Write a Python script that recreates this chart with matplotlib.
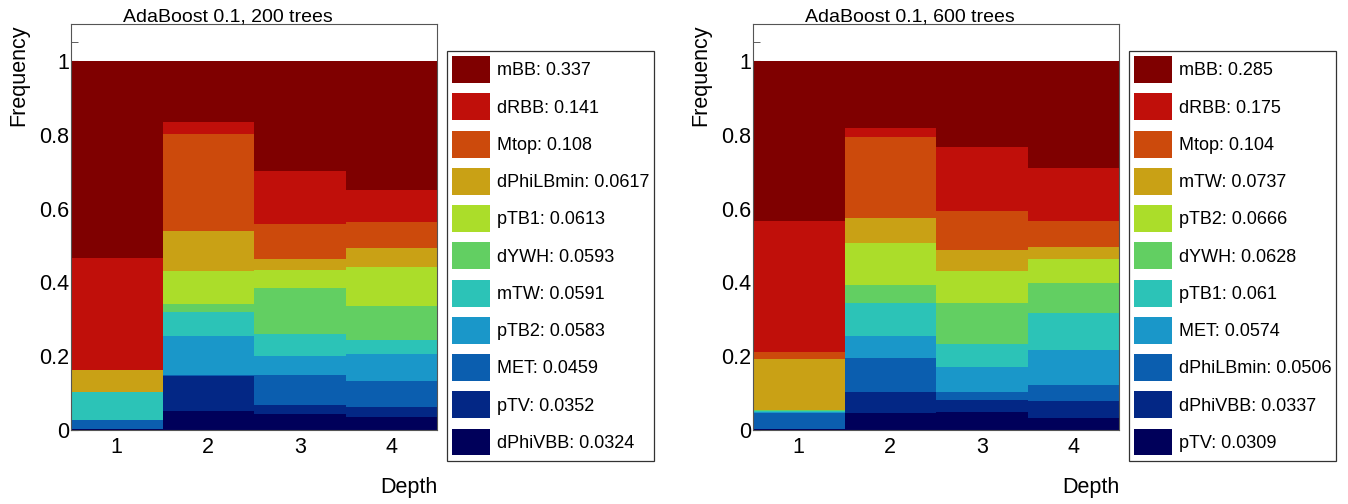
import matplotlib
matplotlib.use('Agg')
import matplotlib.pyplot as plt
import numpy as np

plt.rcParams['font.family'] = ['Liberation Sans', 'DejaVu Sans']

depths = [1, 2, 3, 4]

# colours, ranked from most to least important variable
rank_colors = ['#7f0000', '#c00f0a', '#cc4a0c', '#c9a115', '#abdd2a', '#62cf62',
               '#2cc3b7', '#1a97c9', '#0b5eaf', '#032785', '#00005a']

# --- 200 trees ---
names_200 = ['mBB', 'dRBB', 'Mtop', 'dPhiLBmin', 'pTB1', 'dYWH', 'mTW', 'pTB2',
             'MET', 'pTV', 'dPhiVBB']
imp_200 = ['0.337', '0.141', '0.108', '0.0617', '0.0613', '0.0593', '0.0591',
           '0.0583', '0.0459', '0.0352', '0.0324']
# fraction per depth (1..4) for each variable, same order as names_200
frac_200 = [
    [0.535, 0.165, 0.299, 0.350],
    [0.302, 0.033, 0.143, 0.087],
    [0.000, 0.264, 0.096, 0.071],
    [0.059, 0.106, 0.029, 0.051],
    [0.000, 0.091, 0.047, 0.106],
    [0.000, 0.022, 0.125, 0.092],
    [0.076, 0.065, 0.061, 0.036],
    [0.000, 0.104, 0.052, 0.074],
    [0.025, 0.004, 0.080, 0.072],
    [0.000, 0.094, 0.025, 0.025],
    [0.003, 0.052, 0.043, 0.036],
]

# --- 600 trees ---
names_600 = ['mBB', 'dRBB', 'Mtop', 'mTW', 'pTB2', 'dYWH', 'pTB1', 'MET',
             'dPhiLBmin', 'dPhiVBB', 'pTV']
imp_600 = ['0.285', '0.175', '0.104', '0.0737', '0.0666', '0.0628', '0.061',
           '0.0574', '0.0506', '0.0337', '0.0309']
frac_600 = [
    [0.433, 0.182, 0.232, 0.290],
    [0.356, 0.023, 0.176, 0.143],
    [0.019, 0.221, 0.105, 0.072],
    [0.137, 0.067, 0.056, 0.033],
    [0.000, 0.114, 0.088, 0.064],
    [0.003, 0.050, 0.111, 0.082],
    [0.004, 0.087, 0.061, 0.098],
    [0.002, 0.062, 0.067, 0.097],
    [0.043, 0.090, 0.024, 0.043],
    [0.000, 0.059, 0.032, 0.045],
    [0.003, 0.045, 0.048, 0.033],
]

W, H = 1348, 504
fig = plt.figure(figsize=(W / 100, H / 100), dpi=100)


def panel(left_px, legend_px, title, title_cx, names, imps, fracs):
    ax = fig.add_axes([left_px / W, 1 - 430 / H, 366 / W, 406 / H])
    ax.set_axisbelow(True)
    bottom = np.zeros(len(depths))
    handles = {}
    # stack from least important (bottom) to most important (top)
    for i in range(len(names) - 1, -1, -1):
        vals = np.array(fracs[i])
        b = ax.bar(depths, vals, width=1.0, bottom=bottom, color=rank_colors[i],
                   linewidth=0, zorder=2)
        handles[i] = b
        bottom += vals
    ax.set_xlim(0.5, 4.5)
    ax.set_ylim(0, 1.1)
    ax.set_yticks([0, 0.2, 0.4, 0.6, 0.8, 1.0])
    ax.set_yticklabels(['0', '0.2', '0.4', '0.6', '0.8', '1'])
    ax.set_yticks([1.05], minor=True)
    ax.set_xticks(depths)
    ax.tick_params(axis='y', which='both', direction='in', length=5, pad=1,
                   labelsize=15.5, color='#444444')
    ax.tick_params(axis='x', length=0, pad=5, labelsize=15.5)
    for s in ax.spines.values():
        s.set_linewidth(0.8)
        s.set_color('#555555')
    ax.set_xlabel('Depth', loc='right', fontsize=15.5, labelpad=14)
    fig.text((left_px - 52) / W, 1 - 24 / H, 'Frequency', rotation=90,
             ha='center', va='top', fontsize=15.5)
    fig.text(title_cx / W, 1 - 21 / H, title, ha='center', va='baseline',
             fontsize=14)

    leg_handles = [handles[i] for i in range(len(names))]
    leg_labels = [f'{n}: {v}' for n, v in zip(names, imps)]
    leg = ax.legend(leg_handles, leg_labels,
                    bbox_to_anchor=(legend_px / W, 1 - 461 / H, 207 / W, 410 / H),
                    bbox_transform=fig.transFigure, loc='upper left',
                    mode='expand', fontsize=13, handlelength=2.1,
                    handleheight=1.92, labelspacing=0.57, handletextpad=0.39,
                    borderpad=0.28, borderaxespad=0, fancybox=False,
                    frameon=True, edgecolor='black')
    leg.get_frame().set_linewidth(0.9)
    return ax


panel(71, 447, 'AdaBoost 0.1, 200 trees', 228, names_200, imp_200, frac_200)
panel(753, 1129, 'AdaBoost 0.1, 600 trees', 910, names_600, imp_600, frac_600)

fig.savefig('out.png', dpi=100)
